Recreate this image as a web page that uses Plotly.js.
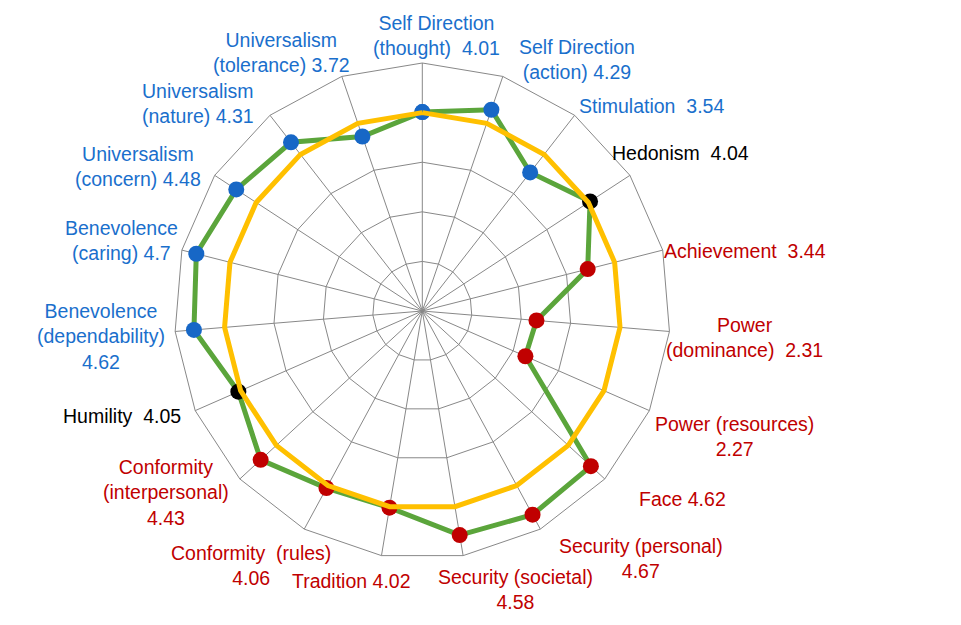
<!DOCTYPE html>
<html>
<head>
<meta charset="utf-8">
<script src="https://cdn.plot.ly/plotly-3.0.1.min.js"></script>
<style>html,body{margin:0;padding:0;background:#fff;}#chart{width:961px;height:625px;}</style>
</head>
<body>
<div id="chart"></div>
<script>
// ---- data ----
const categories = [
  "Self Direction (thought)", "Self Direction (action)", "Stimulation", "Hedonism",
  "Achievement", "Power (dominance)", "Power (resources)", "Face",
  "Security (personal)", "Security (societal)", "Tradition", "Conformity (rules)",
  "Conformity (interpersonal)", "Humility", "Benevolence (dependability)",
  "Benevolence (caring)", "Universalism (concern)", "Universalism (nature)",
  "Universalism (tolerance)"
];
const scores = [4.01, 4.29, 3.54, 4.04, 3.44, 2.31, 2.27, 4.62, 4.67, 4.58, 4.02, 4.06, 4.43, 4.05, 4.62, 4.7, 4.48, 4.31, 3.72];
const reference = [4.0, 4.0, 4.0, 4.0, 4.0, 4.0, 4.0, 4.0, 4.0, 4.0, 4.0, 4.0, 4.0, 4.0, 4.0, 4.0, 4.0, 4.0, 4.0];
const groups = ["open", "open", "open", "both", "enh", "enh", "enh", "cons", "cons", "cons", "cons", "cons", "cons", "both", "trans", "trans", "trans", "trans", "trans"];
// label line-break templates ({v} is replaced by the score)
const labelTemplates = [
  "Self Direction<br>(thought)\u00a0 {v}", "Self Direction<br>(action) {v}", "Stimulation\u00a0 {v}", "Hedonism\u00a0 {v}",
  "Achievement\u00a0 {v}", "Power<br>(dominance)\u00a0 {v}", "Power (resources)<br>{v}", "Face {v}",
  "Security (personal)<br>{v}", "Security (societal)<br>{v}", "Tradition {v}", "Conformity\u00a0 (rules)<br>{v}",
  "Conformity<br>(interpersonal)<br>{v}", "Humility\u00a0 {v}", "Benevolence<br>(dependability)<br>{v}",
  "Benevolence<br>(caring) {v}", "Universalism<br>(concern) {v}", "Universalism<br>(nature) {v}",
  "Universalism<br>(tolerance) {v}"
];

// ---- styles / layout ----
const groupMarker = {open: "#1767c6", trans: "#1767c6", both: "#000000", enh: "#c00000", cons: "#c00000"};
const groupText = {open: "#1a6fcc", trans: "#1a6fcc", both: "#000000", enh: "#c00000", cons: "#c00000"};
// label centres in pixels (x, y)
const labelPos = [
  [436, 36], [577, 60], [651, 106], [680, 153], [745, 251], [744, 338], [734, 436], [682, 499],
  [641, 558], [515, 589], [351, 581], [251, 565], [166, 493], [122, 416], [101, 336],
  [122, 240], [138, 166], [198, 103], [281, 53]
];
const W = 961, H = 625;
const cx = 422.3, cy = 311, R = 248;

const closeLoop = a => a.concat([a[0]]);

const traces = [
  {
    type: "scatterpolar",
    r: closeLoop(scores),
    theta: closeLoop(categories),
    mode: "lines+markers",
    line: {color: "#5ba53b", width: 5},
    marker: {size: 16, color: closeLoop(groups.map(g => groupMarker[g]))},
    hoverinfo: "skip",
    showlegend: false
  },
  {
    type: "scatterpolar",
    r: closeLoop(reference),
    theta: closeLoop(categories),
    mode: "lines",
    line: {color: "#ffc000", width: 5},
    hoverinfo: "skip",
    showlegend: false
  }
];

const annotations = categories.map((c, i) => ({
  xref: "paper", yref: "paper",
  x: labelPos[i][0] / W, y: 1 - labelPos[i][1] / H,
  xanchor: "center", yanchor: "middle",
  text: labelTemplates[i].replace("{v}", String(scores[i])),
  showarrow: false,
  align: "center",
  font: {family: "Liberation Sans, Arial, sans-serif", size: 19.5, color: groupText[groups[i]]}
}));

const layout = {
  width: W, height: H,
  margin: {l: 0, r: 0, t: 0, b: 0},
  paper_bgcolor: "#ffffff",
  showlegend: false,
  font: {family: "Liberation Sans, Arial, sans-serif"},
  polar: {
    domain: {x: [(cx - R) / W, (cx + R) / W], y: [1 - (cy + R) / H, 1 - (cy - R) / H]},
    gridshape: "linear",
    bgcolor: "#ffffff",
    angularaxis: {
      type: "category",
      direction: "clockwise",
      rotation: 90,
      showticklabels: false,
      ticks: "",
      showgrid: true,
      gridcolor: "#888888",
      gridwidth: 1,
      showline: true,
      linecolor: "#888888",
      linewidth: 1
    },
    radialaxis: {
      range: [0, 5],
      dtick: 1,
      showticklabels: false,
      ticks: "",
      showline: false,
      showgrid: true,
      gridcolor: "#888888",
      gridwidth: 1
    }
  },
  annotations: annotations
};

Plotly.newPlot("chart", traces, layout, {staticPlot: true, displayModeBar: false});
</script>
</body>
</html>
